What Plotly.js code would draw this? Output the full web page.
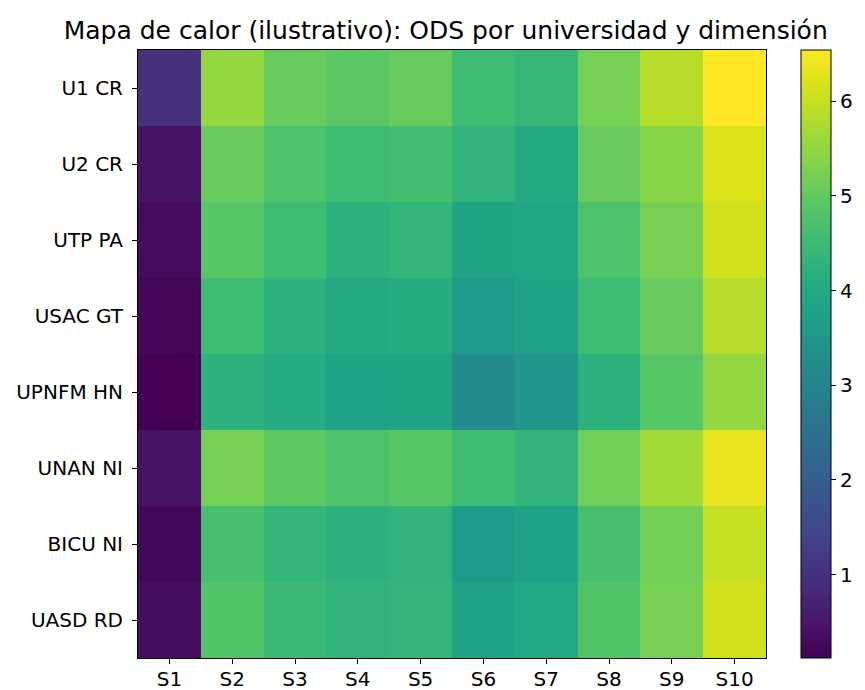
<!DOCTYPE html>
<html>
<head>
<meta charset="utf-8">
<script src="https://cdn.plot.ly/plotly-3.0.1.min.js"></script>
<style>html,body{margin:0;padding:0;background:#fff;}#chart{width:865px;height:690px;}</style>
</head>
<body>
<div id="chart"></div>
<script>
const dimensions = ["S1","S2","S3","S4","S5","S6","S7","S8","S9","S10"];
const universities = ["U1 CR","U2 CR","UTP PA","USAC GT","UPNFM HN","UNAN NI","BICU NI","UASD RD"];
const u1CR    = [1.00, 5.50, 5.06, 4.90, 5.05, 4.55, 4.40, 5.20, 5.85, 6.54];
const u2CR    = [0.44, 5.05, 4.75, 4.55, 4.60, 4.30, 4.00, 5.05, 5.40, 6.20];
const utpPA   = [0.30, 4.85, 4.55, 4.25, 4.35, 3.85, 3.90, 4.75, 5.20, 6.10];
const usacGT  = [0.20, 4.55, 4.25, 4.00, 4.10, 3.65, 3.80, 4.55, 5.05, 5.85];
const upnfmHN = [0.12, 4.25, 4.05, 3.80, 3.85, 3.20, 3.50, 4.25, 4.85, 5.50];
const unanNI  = [0.40, 5.20, 4.95, 4.75, 4.85, 4.55, 4.30, 5.15, 5.65, 6.35];
const bicuNI  = [0.22, 4.65, 4.35, 4.20, 4.30, 3.65, 3.80, 4.65, 5.15, 6.00];
const uasdRD  = [0.32, 4.80, 4.50, 4.30, 4.35, 3.80, 3.95, 4.80, 5.20, 6.10];
const zValues = [u1CR, u2CR, utpPA, usacGT, upnfmHN, unanNI, bicuNI, uasdRD];
const colorbarTicks = [1, 2, 3, 4, 5, 6];

const font = {family: "DejaVu Sans, sans-serif", size: 20, color: "#000"};

const trace = {
  type: "heatmap",
  x: dimensions,
  y: universities,
  z: zValues,
  colorscale: "Viridis",
  xgap: 0, ygap: 0,
  hoverinfo: "x+y+z",
  colorbar: {
    x: 1.0553, xanchor: "left", xpad: 0,
    y: 0.5, yanchor: "middle", ypad: 0,
    len: 1, lenmode: "fraction",
    thickness: 30, thicknessmode: "pixels",
    outlinewidth: 1, outlinecolor: "#000",
    ticks: "outside", ticklen: 5, tickwidth: 1, tickcolor: "#000",
    ticklabelstandoff: 4,
    tickvals: colorbarTicks,
    tickfont: font
  }
};

const layout = {
  width: 865, height: 690,
  margin: {l: 138, r: 94, t: 50, b: 32, pad: 0},
  paper_bgcolor: "#fff",
  plot_bgcolor: "#fff",
  font: font,
  title: {
    text: "Mapa de calor (ilustrativo): ODS por universidad y dimensión",
    font: {family: "DejaVu Sans, sans-serif", size: 25, color: "#000"},
    xref: "paper", x: 0.49, xanchor: "center",
    yref: "container", y: 0.956, yanchor: "middle"
  },
  xaxis: {
    type: "category",
    showline: true, mirror: true, linecolor: "#000", linewidth: 1,
    ticks: "outside", ticklen: 5, tickcolor: "#000",
    ticklabelstandoff: -2,
    showgrid: false, zeroline: false,
    tickfont: font, automargin: false
  },
  yaxis: {
    type: "category",
    autorange: "reversed",
    showline: true, mirror: true, linecolor: "#000", linewidth: 1,
    ticks: "outside", ticklen: 5, tickcolor: "#000",
    ticklabelstandoff: 5,
    showgrid: false, zeroline: false,
    tickfont: font, automargin: false
  }
};

Plotly.newPlot("chart", [trace], layout, {displayModeBar: false, staticPlot: true});
</script>
</body>
</html>
